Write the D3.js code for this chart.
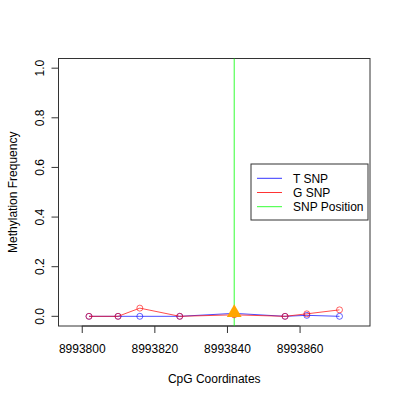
<!DOCTYPE html>
<html>
<head>
<meta charset="utf-8">
<script src="https://cdn.jsdelivr.net/npm/d3@7"></script>
<style>
  body { margin: 0; background: #fff; }
  svg { font-family: "Liberation Sans", Arial, sans-serif; }
</style>
</head>
<body>
<div id="chart"></div>
<script>
// CpG positions and methylation values
const positions = [8993802, 8993810, 8993816, 8993827, 8993842, 8993856, 8993862, 8993871];
const tSnp = [0, 0, 0, 0, 0.012, 0, 0.004, 0];
const gSnp = [0, 0, 0.033, 0, 0.006, 0, 0.01, 0.026];
const snpPosition = 8993842;
const snpLevel = 0.01;
const xTicks = [8993800, 8993820, 8993840, 8993860];
const yTicks = [0, 0.2, 0.4, 0.6, 0.8, 1.0];
const legendLabels = ['T SNP', 'G SNP', 'SNP Position'];
const legendColors = ['#0000ff', '#ff0000', '#00ff00'];

const width = 400;
const height = 400;
const box = { left: 58.5, right: 370, top: 58.5, bottom: 326 };

const svg = d3.select('#chart').append('svg')
  .attr('width', width).attr('height', height);

const xScale = d3.scaleLinear().domain([8993793.6, 8993879.4]).range([box.left, box.right]);
const yScale = d3.scaleLinear().domain([-0.039, 1.039]).range([box.bottom, box.top]);

// plot frame
svg.append('rect')
  .attr('x', box.left).attr('y', box.top)
  .attr('width', box.right - box.left).attr('height', box.bottom - box.top)
  .attr('fill', 'none').attr('stroke', '#333').attr('stroke-width', 1);

// axes
const xAxis = svg.append('g').attr('transform', `translate(0, ${box.bottom})`)
  .call(d3.axisBottom(xScale).tickValues(xTicks).tickFormat(d3.format('d')).tickSize(7).tickPadding(11));
const yAxis = svg.append('g').attr('transform', `translate(${box.left}, 0)`)
  .call(d3.axisLeft(yScale).tickValues(yTicks).tickFormat(d3.format('.1f')).tickSize(7));

xAxis.select('.domain').attr('d', `M${xScale(xTicks[0])},0H${xScale(xTicks[xTicks.length - 1])}`).attr('stroke', '#333');
yAxis.select('.domain').attr('d', `M0,${yScale(0)}V${yScale(1)}`).attr('stroke', '#333');
svg.selectAll('.tick line').attr('stroke', '#333');
svg.selectAll('.tick text').attr('fill', '#000').style('font-size', '12px');
xAxis.selectAll('.tick text').attr('dy', '0.71em');
yAxis.selectAll('.tick text')
  .attr('text-anchor', 'middle')
  .attr('x', 0).attr('dy', 0)
  .attr('transform', d => `translate(-18, ${yScale(d)}) rotate(-90)`)
  .attr('y', 0)
  .attr('dominant-baseline', 'middle');
yAxis.selectAll('.tick').attr('transform', null);
yAxis.selectAll('.tick line').attr('transform', d => `translate(0, ${yScale(d)})`);

// axis titles
svg.append('text')
  .attr('x', (box.left + box.right) / 2).attr('y', 383)
  .attr('text-anchor', 'middle').style('font-size', '12px')
  .text('CpG Coordinates');
svg.append('text')
  .attr('transform', `translate(17, ${(box.top + box.bottom) / 2}) rotate(-90)`)
  .attr('text-anchor', 'middle').style('font-size', '12px')
  .text('Methylation Frequency');

// SNP position line
svg.append('line')
  .attr('x1', xScale(snpPosition)).attr('x2', xScale(snpPosition))
  .attr('y1', box.top).attr('y2', box.bottom)
  .attr('stroke', '#00ff00').attr('stroke-width', 0.8);

// series
const series = [
  { values: tSnp, color: '#0000ff' },
  { values: gSnp, color: '#ff0000' }
];
const line = d3.line().x(d => xScale(d[0])).y(d => yScale(d[1]));

series.forEach(s => {
  const pts = positions.map((p, i) => [p, s.values[i]]);
  svg.append('path')
    .attr('d', line(pts))
    .attr('fill', 'none').attr('stroke', s.color).attr('stroke-width', 0.7);
  svg.append('g').selectAll('circle')
    .data(pts)
    .join('circle')
    .attr('cx', d => xScale(d[0]))
    .attr('cy', d => yScale(d[1]))
    .attr('r', 3)
    .attr('fill', 'none')
    .attr('stroke', s.color)
    .attr('stroke-width', 0.8)
    .attr('stroke-opacity', 0.75);
});

// SNP marker
svg.append('path')
  .attr('d', d3.symbol().type(d3.symbolTriangle).size(95)())
  .attr('transform', `translate(${xScale(snpPosition)}, ${yScale(snpLevel) - 1})`)
  .attr('fill', '#ffa500');

// legend
const legend = svg.append('g');
legend.append('rect')
  .attr('x', 251).attr('y', 164).attr('width', 117).attr('height', 56)
  .attr('fill', '#fff').attr('stroke', '#333').attr('stroke-width', 1);
legendLabels.forEach((label, i) => {
  const y = 178.3 + i * 14.2;
  legend.append('line')
    .attr('x1', 257).attr('x2', 282).attr('y1', y).attr('y2', y)
    .attr('stroke', legendColors[i]).attr('stroke-width', 0.8);
  legend.append('text')
    .attr('x', 293).attr('y', y).attr('dy', '0.35em')
    .style('font-size', '12px')
    .text(label);
});
</script>
</body>
</html>
